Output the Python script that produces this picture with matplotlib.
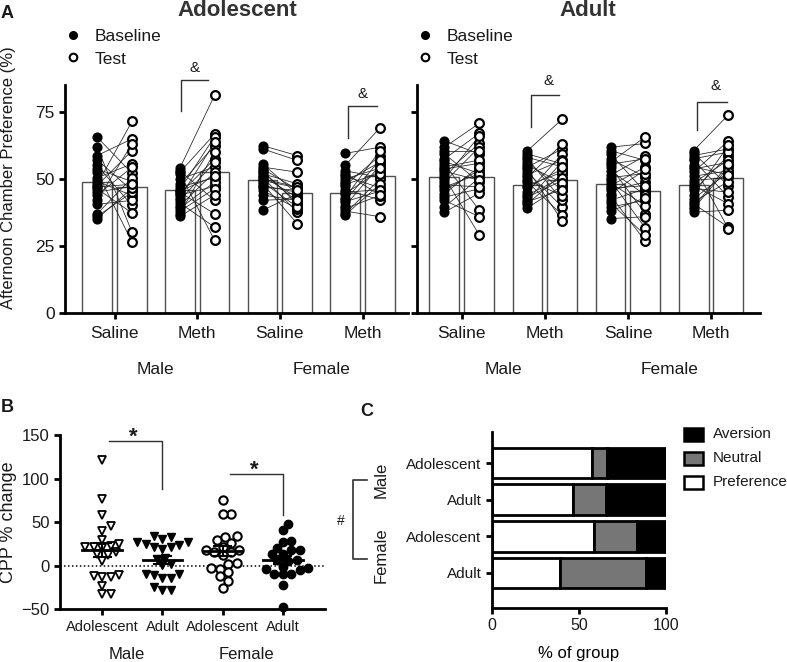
import numpy as np
import matplotlib
matplotlib.use('Agg')
import matplotlib.pyplot as plt
from matplotlib.patches import Rectangle
from matplotlib.lines import Line2D

plt.rcParams['font.family'] = ['Liberation Sans', 'DejaVu Sans']
plt.rcParams['text.color'] = '#1a1a1a'

# ---------------- Panel A data ----------------
cond_labels = ['Saline', 'Meth', 'Saline', 'Meth']
sex_labels = ['Male', 'Female']

# Adolescent
adol_base_mean = [48.7, 46.0, 49.7, 44.8]
adol_test_mean = [46.9, 52.5, 44.9, 50.9]

adol_m_sal_base = [65.5, 61.8, 58.7, 57.1, 55.0, 53.7, 52.5, 50.4, 49.1, 48.0, 47.5, 46.3, 45.1, 44.0, 42.0, 40.5, 37.0, 36.0, 35.2, 47.0]
adol_m_sal_test = [52.1, 30.2, 64.9, 45.7, 40.1, 49.0, 26.5, 55.6, 43.8, 71.4, 60.5, 37.3, 47.2, 54.3, 63.0, 42.0, 50.4, 45.0, 46.5, 48.0]
adol_m_meth_base = [54.0, 53.0, 52.5, 52.0, 50.0, 48.0, 47.0, 46.0, 45.0, 44.5, 44.0, 43.0, 42.0, 41.0, 40.0, 39.0, 38.0, 37.0, 36.0, 45.5]
adol_m_meth_test = [81.2, 42.0, 66.7, 27.1, 54.4, 62.4, 50.4, 65.7, 37.0, 57.4, 47.2, 63.6, 56.2, 32.0, 52.5, 48.8, 46.3, 60.0, 44.0, 51.0]
adol_f_sal_base = [62.4, 61.2, 55.6, 54.4, 53.1, 51.9, 50.6, 49.4, 48.2, 46.9, 45.7, 42.0, 38.3, 52.5, 50.0, 48.8, 47.5, 51.0, 53.8, 44.0]
adol_f_sal_test = [58.7, 56.9, 44.4, 52.5, 40.7, 48.2, 37.6, 46.7, 33.3, 45.7, 38.9, 42.6, 44.4, 41.5, 47.0, 39.5, 45.0, 43.0, 46.0, 42.0]
adol_f_meth_base = [59.5, 55.0, 53.0, 51.0, 49.0, 47.5, 46.0, 44.5, 43.0, 41.5, 40.0, 39.0, 38.0, 37.0, 36.5, 48.0, 42.0, 45.0, 50.0, 52.0]
adol_f_meth_test = [61.8, 69.0, 50.6, 46.7, 56.2, 58.7, 42.2, 53.1, 60.5, 45.4, 55.0, 43.8, 35.9, 50.0, 48.0, 52.0, 57.0, 46.0, 54.0, 44.0]

# Adult
adult_base_mean = [50.6, 47.8, 48.1, 47.8]
adult_test_mean = [50.6, 49.6, 45.5, 50.4]

adult_m_sal_base = [64.2, 61.8, 59.3, 57.4, 55.6, 53.7, 51.9, 50.6, 48.8, 46.9, 45.7, 43.2, 42.0, 39.5, 37.6, 56.5, 54.5, 52.8, 50.0, 47.8, 44.5, 60.5]
adult_m_sal_test = [59.3, 70.7, 48.8, 67.0, 38.3, 55.8, 63.2, 29.1, 61.8, 51.9, 53.3, 46.3, 35.9, 50.4, 44.7, 52.0, 57.0, 49.5, 66.0, 47.0, 54.5, 60.5]
adult_m_meth_base = [60.5, 59.3, 56.2, 54.4, 52.5, 50.6, 48.8, 46.9, 45.0, 43.2, 40.7, 39.2, 57.5, 53.5, 51.5, 49.5, 47.5, 44.0, 42.0, 55.0, 41.5, 58.0]
adult_m_meth_test = [72.3, 55.6, 45.7, 61.2, 39.5, 63.0, 36.5, 53.7, 59.3, 49.4, 51.9, 47.5, 42.0, 34.3, 57.0, 43.8, 52.5, 50.5, 56.5, 48.5, 46.0, 54.5]
adult_f_sal_base = [61.8, 59.3, 56.2, 54.4, 51.3, 49.4, 47.5, 45.7, 43.8, 42.0, 39.5, 35.2, 60.5, 57.5, 53.0, 50.5, 48.5, 46.5, 44.5, 41.0, 55.5, 38.0]
adult_f_sal_test = [63.2, 45.0, 65.7, 37.0, 58.7, 31.6, 54.4, 48.8, 26.7, 46.3, 42.0, 35.9, 56.9, 50.6, 44.0, 52.0, 40.0, 47.5, 53.5, 29.0, 57.5, 43.0]
adult_f_meth_base = [60.5, 58.7, 56.9, 53.7, 52.5, 49.4, 47.5, 45.7, 42.6, 40.7, 38.9, 37.6, 59.5, 57.5, 55.0, 51.0, 48.5, 44.0, 41.5, 39.5, 54.5, 46.5]
adult_f_meth_test = [73.9, 61.2, 43.2, 56.2, 64.2, 50.6, 40.7, 58.7, 52.5, 32.0, 54.4, 38.3, 47.5, 60.0, 31.4, 53.0, 57.0, 62.5, 49.0, 55.5, 51.5, 45.0]

# ---------------- Panel B data ----------------
b_labels = ['Adolescent', 'Adult', 'Adolescent', 'Adult']
cpp_male_adol = [121.8, 77.0, 57.8, 45.2, 39.8, 29.9, 20.0, 21.5, 22.2, 24.5, 21.5, 16.0, 11.8, 13.0, 5.3,
                 -10.7, -12.6, -12.0, -12.6, -23.8, -33.0, -32.5]
cpp_male_adult = [31.0, 27.0, 27.0, 32.4, 33.6, 22.0, 19.0, 21.0, 24.0, 24.5, 9.0, 8.0, 0.3,
                  -10.7, -14.6, -14.6, -10.0, -9.0, -28.0, -24.6, -28.0, 2.0]
cpp_female_adol = [75.0, 59.8, 59.0, 29.0, 32.9, 26.0, 33.7, 18.4, 21.4, 18.0, 15.7, 11.9, 15.7,
                   2.3, -3.4, -2.3, 3.0, -12.3, -17.7, -7.3, -25.3]
cpp_female_adult = [48.3, 40.6, 27.2, 27.9, 18.4, 20.7, 17.6, 13.0, 13.0, 6.9, 6.9, 5.0,
                    -3.4, -2.3, -1.0, -4.6, -9.2, -10.0, -9.2, -22.6, -46.8]

# ---------------- Panel C data ----------------
c_labels = ['Adolescent', 'Adult', 'Adolescent', 'Adult']
c_pref = [57.7, 46.5, 58.7, 39.0]
c_neut = [8.6, 18.9, 24.8, 49.5]
c_aver = [33.7, 34.6, 16.5, 11.5]

# ======================================================
W, H = 787, 662
fig = plt.figure(figsize=(W / 100, H / 100), dpi=100)


def rect(x0, y0, x1, y1):
    return [x0 / W, 1 - y1 / H, (x1 - x0) / W, (y1 - y0) / H]


def ft(x, y, s, **kw):
    return fig.text(x / W, 1 - y / H, s, **kw)


def fline(xs, ys, **kw):
    fig.add_artist(Line2D([x / W for x in xs], [1 - y / H for y in ys], **kw))


SPW = 2.0


def style_axes(ax):
    for s in ['top', 'right']:
        ax.spines[s].set_visible(False)
    for s in ['left', 'bottom']:
        ax.spines[s].set_linewidth(SPW)
        ax.spines[s].set_color('black')
    ax.tick_params(direction='out', length=4, width=SPW, colors='black', labelcolor='#1a1a1a')


def panel_a(ax, base, test, bmean, tmean, xlim, showy, brackets):
    pos = np.arange(4)
    off, bw = 0.21, 0.36
    ax.bar(pos - off, bmean, width=bw, color='white', edgecolor='#505050', lw=1.0, zorder=1)
    ax.bar(pos + off, tmean, width=bw, color='white', edgecolor='#505050', lw=1.0, zorder=1)
    for i in range(4):
        b, t = base[i], test[i]
        for bv, tv in zip(b, t):
            ax.plot([i - off, i + off], [bv, tv], color='#202020', lw=0.55, zorder=2)
        ax.plot([i - off] * len(b), b, 'o', ms=6.3, mfc='black', mec='black', zorder=3)
        ax.plot([i + off] * len(t), t, 'o', ms=6.3, mfc='white', mec='black', mew=1.6, zorder=4)
    ax.set_xlim(*xlim)
    ax.set_ylim(0, 85)
    ax.set_yticks([0, 25, 50, 75])
    ax.set_xticks(pos)
    ax.set_xticklabels(cond_labels, fontsize=12.5)
    style_axes(ax)
    ax.tick_params(axis='x', pad=5)
    ax.tick_params(axis='y', labelsize=12.5, labelleft=showy)
    trans = ax.get_xaxis_transform()
    ax.text(0.5, -0.25, sex_labels[0], transform=trans, ha='center', va='center', fontsize=12.5)
    ax.text(2.5, -0.25, sex_labels[1], transform=trans, ha='center', va='center', fontsize=12.5)
    for (x0, x1, ytop, ybot, xs, ys) in brackets:
        ax.plot([x0, x0, x1], [ybot, ytop, ytop], color='#303030', lw=1.0, clip_on=False)
        ax.text(xs, ys, '&', ha='center', va='center', fontsize=11, clip_on=False)


axA1 = fig.add_axes(rect(65, 85, 408, 313))
panel_a(axA1,
        [adol_m_sal_base, adol_m_meth_base, adol_f_sal_base, adol_f_meth_base],
        [adol_m_sal_test, adol_m_meth_test, adol_f_sal_test, adol_f_meth_test],
        adol_base_mean, adol_test_mean, (-0.6, 3.55), True,
        [(0.8, 1.13, 86.9, 75.4, 0.97, 91.4), (2.83, 3.17, 77.2, 65.4, 3.0, 81.7)])

axA2 = fig.add_axes(rect(417, 85, 760, 313))
panel_a(axA2,
        [adult_m_sal_base, adult_m_meth_base, adult_f_sal_base, adult_f_meth_base],
        [adult_m_sal_test, adult_m_meth_test, adult_f_sal_test, adult_f_meth_test],
        adult_base_mean, adult_test_mean, (-0.54, 3.59), False,
        [(0.83, 1.17, 81.3, 69.4, 1.04, 86.5), (2.83, 3.19, 78.7, 68.3, 3.05, 84.7)])

ft(9, 178, 'Afternoon Chamber Preference (%)', rotation=90, ha='center', va='center', fontsize=12)
ft(237, 16, 'Adolescent', ha='center', va='baseline', fontsize=16, fontweight='bold', color='#333333')
ft(588, 16, 'Adult', ha='center', va='baseline', fontsize=16, fontweight='bold', color='#333333')
ft(7, 13, 'A', ha='center', va='center', fontsize=13, fontweight='bold')

# legends panel A
for lx, tx in [(73, 95), (425, 447)]:
    fig.add_artist(Line2D([lx / W], [1 - 35 / H], marker='o', ms=5.5, mfc='black', mec='black', ls='none'))
    fig.add_artist(Line2D([lx / W], [1 - 57 / H], marker='o', ms=5.5, mfc='white', mec='black', mew=1.5, ls='none'))
    ft(tx, 41, 'Baseline', ha='left', va='baseline', fontsize=12.5)
    ft(tx, 64, 'Test', ha='left', va='baseline', fontsize=12.5)

# ---------------- Panel B ----------------
axB = fig.add_axes(rect(60, 435, 325, 609.3))
style_axes(axB)
axB.set_xlim(-0.7, 3.7)
axB.set_ylim(-50, 150)
axB.set_yticks([-50, 0, 50, 100, 150])
axB.tick_params(axis='y', labelsize=12)
axB.set_xticks(range(4))
axB.set_xticklabels(b_labels, fontsize=10.5)
axB.axhline(0, color='black', lw=1.1, ls=(0, (1, 1.6)), zorder=1)

ppx = 60.3  # px per x unit
ppy = 0.87  # px per y unit


def swarm(vals, d=8.0):
    vals = np.asarray(vals, float)
    order = np.argsort(vals)
    placed = []
    xs = np.zeros(len(vals))
    cands = [0.0]
    for m in range(1, 40):
        cands += [m * d * 0.35, -m * d * 0.35]
    for idx in order:
        y = vals[idx] * ppy
        for c in cands:
            ok = True
            for (px_, py_) in placed:
                if (px_ - c) ** 2 + (py_ - y) ** 2 < d * d * 0.9:
                    ok = False
                    break
            if ok:
                xs[idx] = c
                placed.append((c, y))
                break
    return xs / ppx


groups_b = [
    (cpp_male_adol, 'v', 'white', 1.3),
    (cpp_male_adult, 'v', 'black', 1.0),
    (cpp_female_adol, 'o', 'white', 1.5),
    (cpp_female_adult, 'o', 'black', 1.0),
]
for i, (vals, mk, fc, mew) in enumerate(groups_b):
    vals = np.asarray(vals)
    xo = swarm(vals)
    ms = 6.3 if mk == 'v' else 6.0
    axB.plot(i + xo, vals, mk, ms=ms, mfc=fc, mec='black', mew=mew, ls='none', zorder=3, clip_on=False)
    m = vals.mean()
    sem = vals.std(ddof=1) / np.sqrt(len(vals))
    axB.plot([i - 0.33, i + 0.33], [m, m], color='black', lw=2.0, zorder=4)
    axB.plot([i, i], [m - sem, m + sem], color='black', lw=1.5, zorder=4)
    axB.plot([i - 0.14, i + 0.14], [m + sem, m + sem], color='black', lw=1.5, zorder=4)
    axB.plot([i - 0.14, i + 0.14], [m - sem, m - sem], color='black', lw=1.5, zorder=4)

axB.plot([0.12, 1.0, 1.0], [143, 143, 88], color='#303030', lw=1.0, clip_on=False)
axB.text(0.52, 147, '*', ha='center', va='center', fontsize=16, fontweight='bold')
axB.plot([2.13, 3.0, 3.0], [105.6, 105.6, 57.8], color='#303030', lw=1.0, clip_on=False)
axB.text(2.52, 110, '*', ha='center', va='center', fontsize=16, fontweight='bold')
transB = axB.get_xaxis_transform()
axB.text(0.4, -0.26, 'Male', transform=transB, ha='center', va='center', fontsize=12)
axB.text(2.39, -0.26, 'Female', transform=transB, ha='center', va='center', fontsize=12)
ft(9, 522, 'CPP % change', rotation=90, ha='center', va='center', fontsize=13)
ft(7, 408, 'B', ha='center', va='center', fontsize=13, fontweight='bold')

# ---------------- Panel C ----------------
axC = fig.add_axes(rect(492, 432, 666, 607.7))
style_axes(axC)
ypos = np.arange(4)
pref = np.array(c_pref)
neut = np.array(c_neut)
aver = np.array(c_aver)
bh = 0.84
axC.barh(ypos, pref, height=bh, color='white', edgecolor='black', lw=2.0, zorder=2)
axC.barh(ypos, neut, left=pref, height=bh, color='#767676', edgecolor='black', lw=2.0, zorder=2)
axC.barh(ypos, aver, left=pref + neut, height=bh, color='black', edgecolor='black', lw=2.0, zorder=2)
axC.set_xlim(0, 100)
axC.set_ylim(3.95, -0.85)
axC.set_xticks([0, 50, 100])
axC.set_yticks(ypos)
axC.set_yticklabels(c_labels, fontsize=11)
axC.tick_params(axis='x', labelsize=11.5)
axC.set_xlabel('% of group', fontsize=12, labelpad=9)
ft(367, 411, 'C', ha='center', va='center', fontsize=13, fontweight='bold')

# legend panel C
for yc, fc, lab in [(434, 'black', 'Aversion'), (458, '#767676', 'Neutral'), (482, 'white', 'Preference')]:
    fig.add_artist(Rectangle((684 / W, 1 - (yc + 6.5) / H), 19 / W, 13 / H, facecolor=fc,
                             edgecolor='black', lw=1.8, transform=fig.transFigure))
    ft(713, yc, lab, ha='left', va='center', fontsize=11)

# bracket with # for sex
fline([367, 353, 353, 367], [480, 480, 559, 559], color='#303030', lw=1.2)
ft(341, 521, '#', ha='center', va='center', fontsize=10)
ft(381, 480, 'Male', rotation=90, ha='center', va='center', fontsize=12)
ft(381, 555, 'Female', rotation=90, ha='center', va='center', fontsize=12)

fig.savefig('out.png', dpi=100)
